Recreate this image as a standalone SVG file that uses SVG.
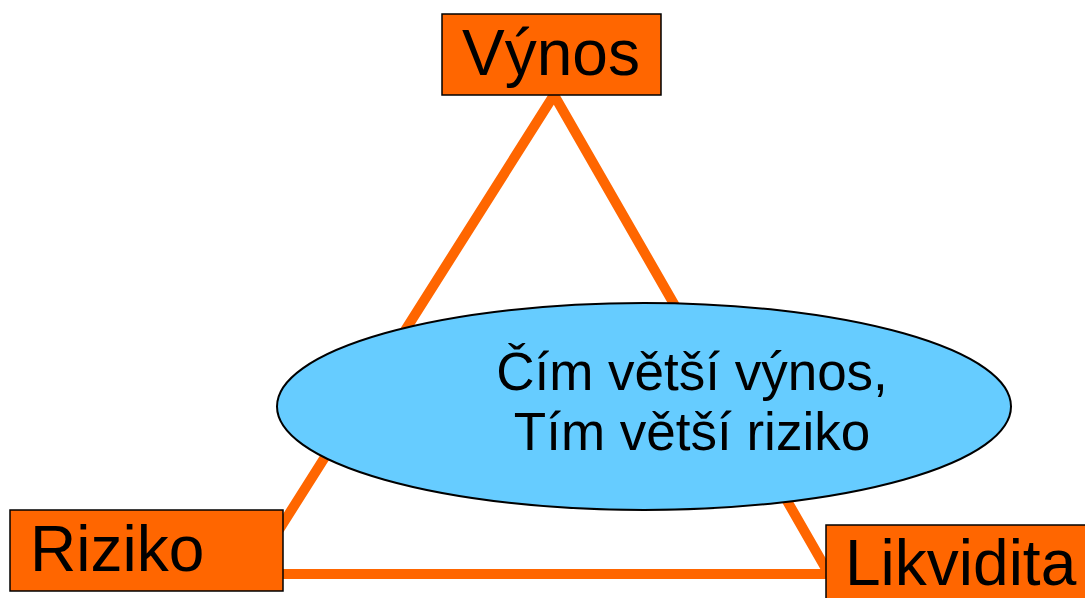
<svg xmlns="http://www.w3.org/2000/svg" width="1085" height="598" viewBox="0 0 1085 598">
<style>
.box{fill:#FF6600;stroke:#000;stroke-width:1.5}
.lbl{font-family:"Liberation Sans",Arial,sans-serif;font-size:64px;fill:#000}
.conn{fill:none;stroke:#FF6600;stroke-width:10;stroke-linejoin:miter}
.ell{fill:#66CCFF;stroke:#000;stroke-width:2}
.etxt{font-family:"Liberation Sans",Arial,sans-serif;font-size:53px;fill:#000;text-anchor:middle}
</style>
<rect width="1085" height="598" fill="#fff"/>
<g id="connectors">
<polygon class="conn" points="554,95 251,574 829,574"/>
</g>
<g id="node-vynos">
<rect class="box" x="442" y="14" width="219" height="81"/>
<text class="lbl" x="551" y="75" text-anchor="middle">Výnos</text>
</g>
<g id="node-riziko">
<rect class="box" x="10" y="510" width="273" height="81"/>
<text class="lbl" x="30" y="571">Riziko</text>
</g>
<g id="node-likvidita">
<rect class="box" x="826" y="525" width="270" height="80"/>
<text class="lbl" x="845" y="585">Likvidita</text>
</g>
<g id="node-ellipse">
<ellipse class="ell" cx="644" cy="406.5" rx="367" ry="103.5"/>
<text class="etxt" x="692" y="390">Čím větší výnos,</text>
<text class="etxt" x="692" y="450">Tím větší riziko</text>
</g>
</svg>
